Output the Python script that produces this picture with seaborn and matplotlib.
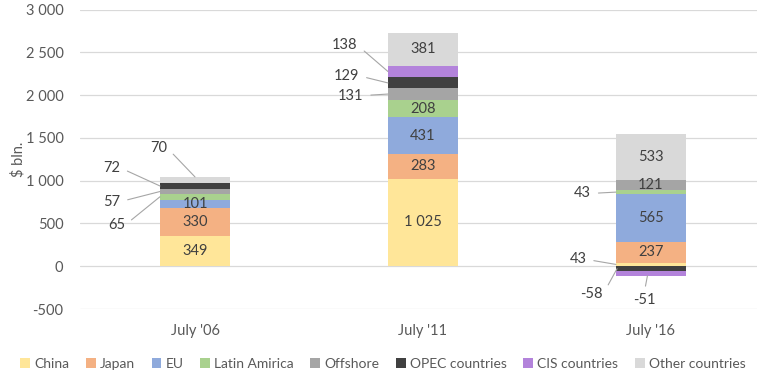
import numpy as np
import pandas as pd
import seaborn as sns
from matplotlib import pyplot as plt
from matplotlib.patches import Patch
from matplotlib.ticker import FuncFormatter

# data ($ bln.)
categories = ["July '06", "July '11", "July '16"]
series_names = ["China", "Japan", "EU", "Latin Amirica", "Offshore",
                "OPEC countries", "CIS countries", "Other countries"]
china = [349, 1025, 43]
japan = [330, 283, 237]
eu = [101, 431, 565]
latin = [65, 208, 43]
offshore = [57, 131, 121]
opec = [72, 129, -58]
cis = [0, 138, -51]
other = [70, 381, 533]

colors = ["#FFE699", "#F4B183", "#8FAADC", "#A9D18E", "#A5A5A5",
          "#404040", "#B383DB", "#D9D9D9"]

sns.set_style("white")
plt.rcParams['font.family'] = ['Lato', 'DejaVu Sans']

values = np.array([china, japan, eu, latin, offshore, opec, cis, other], dtype=float)
pos = np.where(values > 0, values, 0)
neg = np.where(values < 0, values, 0)
cum_pos = pos.cumsum(axis=0)
cum_neg = neg.cumsum(axis=0)

fig = plt.figure(figsize=(7.63, 3.82), dpi=100)
ax = fig.add_axes([0.105, 0.191, 0.887, 0.784])

# stacked bars: draw cumulative totals back to front so each layer covers the next
for i in range(len(series_names) - 1, -1, -1):
     for cum in (cum_pos[i], cum_neg[i]):
          df = pd.DataFrame({"cat": categories, "val": cum})
          sns.barplot(data=df, x="cat", y="val", color=colors[i], width=0.307,
                      saturation=1, linewidth=0, edgecolor="none", ax=ax, zorder=2)

ax.set_xlim(-0.504, 2.465)
ax.set_ylim(-500, 3000)
ax.set_yticks(np.arange(-500, 3001, 500))
ax.yaxis.set_major_formatter(FuncFormatter(lambda v, p: f"{int(v):,}".replace(",", " ")))
ax.grid(axis="y", color="#D9D9D9", lw=0.9, zorder=0)
ax.set_axisbelow(True)
for s in ax.spines.values():
     s.set_visible(False)
ax.tick_params(axis="both", length=0, labelsize=10.5, labelcolor="#595959")
ax.tick_params(axis="x", pad=11)
ax.tick_params(axis="y", pad=12)
ax.set_xlabel("")
ax.set_ylabel("$ bln.", fontsize=10.5, color="#595959", labelpad=0)

txt = dict(fontsize=10.5, color="#404040", ha="center", va="center")

# labels inside segments
inside = {0: [0, 1, 2], 1: [0, 1, 2, 3, 7], 2: [1, 2, 4, 7]}
for c, idxs in inside.items():
     for i in idxs:
          v = values[i, c]
          mid = cum_pos[i, c] - v / 2
          ax.text(c, mid, f"{int(v):,}".replace(",", " "), zorder=5, **txt)

half = 0.307 / 2
def mid(i, c):
     v = values[i, c]
     return (cum_pos[i, c] if v >= 0 else cum_neg[i, c]) - v / 2

# labels outside with leader lines: (series, category, text x, text y, target x, target y)
outside = [
     (7, 0, -0.16, 1385, 0.0, cum_pos[7, 0]),
     (5, 0, -0.365, 1150, -half, mid(5, 0)),
     (4, 0, -0.365, 755, -half, mid(4, 0)),
     (3, 0, -0.345, 480, -half, mid(3, 0)),
     (6, 1, 0.658, 2580, 1 - half, mid(6, 1)),
     (5, 1, 0.665, 2225, 1 - half, mid(5, 1)),
     (4, 1, 0.683, 1995, 1 - half, mid(4, 1)),
     (3, 2, 1.70, 851, 2 - half, mid(3, 2)),
     (0, 2, 1.68, 80, 2 - half, mid(0, 2)),
     (5, 2, 1.74, -330, 2 - half + 0.005, mid(5, 2)),
     (6, 2, 1.97, -400, 1.985, cum_neg[6, 2]),
]
for i, c, tx, ty, px, py in outside:
     v = int(values[i, c])
     rel = (0.5, 1) if (c == 2 and i == 6) else (1, 0.5)
     ax.annotate(str(v), xy=(px, py), xytext=(tx, ty), textcoords="data",
                 arrowprops=dict(arrowstyle="-", color="#A6A6A6", lw=0.8,
                                 shrinkA=3, shrinkB=0, relpos=rel),
                 zorder=5, **txt)

handles = [Patch(facecolor=col, edgecolor="none") for col in colors]
fig.legend(handles, series_names, loc="center", bbox_to_anchor=(0.502, 0.047),
           ncol=8, frameon=False, fontsize=10, labelcolor="#595959",
           handlelength=0.7, handleheight=0.7, handletextpad=0.3, columnspacing=1.2)

fig.savefig("out.png", dpi=100)
